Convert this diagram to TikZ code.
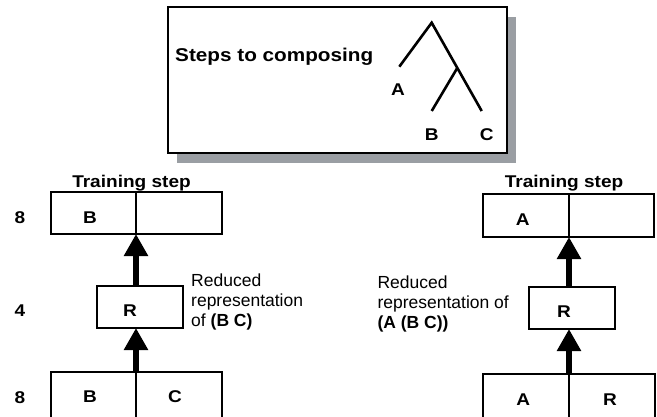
\documentclass[tikz,border=0pt]{standalone}
\usepackage{fontspec}
\setmainfont{Liberation Sans}
\usetikzlibrary{arrows.meta}
\definecolor{shadowgray}{HTML}{9A9EA3}
\newcommand{\wbold}[1]{\scalebox{1.12}[1]{\bfseries #1}}
\tikzset{
  cell/.style={draw, line width=1.2pt, inner sep=0pt, outer sep=0pt},
  lbl/.style={font=\fontsize{17}{20}\selectfont, inner sep=0pt, anchor=base},
  note/.style={font=\fontsize{17.5}{19.8}\selectfont, inner sep=0pt, anchor=base west, align=left},
  uparrow/.style={line width=6pt, -{Triangle[width=23pt,length=22pt]}},
  branch/.style={line width=2.6pt}
}
\begin{document}
\begin{tikzpicture}[x=1pt,y=-1pt]
\useasboundingbox (0,0) rectangle (657,416);
\clip (0,0) rectangle (657,416);
\fill[white] (0,0) rectangle (657,416);

% title panel
\fill[shadowgray] (177,17) rectangle (516,163);
\node[draw, fill=white, line width=1.2pt, minimum width=339pt, minimum height=146pt, inner sep=0pt] (frame) at (337.5,80) {};
\node[font=\fontsize{18.5}{21}\selectfont, inner sep=0pt, anchor=base west] (title) at (175,61) {\wbold{Steps to composing}};
\coordinate (apex) at (431.7,22.7);
\coordinate (tA) at (399.3,66.7);
\coordinate (mid) at (457,68.5);
\coordinate (tC) at (481.7,111);
\coordinate (tB) at (431.7,111);
\draw[branch] (tA) -- (apex) -- (tC);
\draw[branch] (mid) -- (tB);
\node[lbl] (lA) at (398,95) {\wbold{A}};
\node[lbl] (lB) at (431.7,140) {\wbold{B}};
\node[lbl] (lC) at (486.7,140) {\wbold{C}};

% left column
\node[lbl] (ltitle) at (131.5,187) {\wbold{Training step}};
\node[cell, minimum width=85pt, minimum height=42pt] (lt1) at (93.5,213) {};
\node[cell, minimum width=86pt, minimum height=42pt] (lt2) at (179,213) {};
\node[lbl] (ltB) at (90,223.5) {\wbold{B}};
\node[cell, minimum width=86pt, minimum height=42pt] (lr) at (140,307) {};
\node[lbl] (lrR) at (130,316.7) {\wbold{R}};
\node[cell, minimum width=85pt, minimum height=60pt] (lb1) at (93.5,402) {};
\node[cell, minimum width=86pt, minimum height=60pt] (lb2) at (179,402) {};
\node[lbl] (lbB) at (90,402.3) {\wbold{B}};
\node[lbl] (lbC) at (175,402.3) {\wbold{C}};
\node[lbl] (n8a) at (20,223) {\wbold{8}};
\node[lbl] (n4) at (20,316) {\wbold{4}};
\node[lbl] (n8b) at (20,403) {\wbold{8}};
\node[note] (lnote) at (191,326.3) {Reduced\\representation\\of \textbf{(B C)}};
\draw[uparrow] (lb1.north east) -- (lb1.north east |- lr.south);
\draw[uparrow] (lb1.north east |- lr.north) -- (lt1.south east);

% right column
\node[lbl] (rtitle) at (564,187) {\wbold{Training step}};
\node[cell, minimum width=86pt, minimum height=43pt] (rt1) at (526,215.5) {};
\node[cell, minimum width=85pt, minimum height=43pt] (rt2) at (611.5,215.5) {};
\node[lbl] (rtA) at (522.7,225.7) {\wbold{A}};
\node[cell, minimum width=86pt, minimum height=42pt] (rr) at (572,308) {};
\node[lbl] (rrR) at (564,317.7) {\wbold{R}};
\node[cell, minimum width=86pt, minimum height=60pt] (rb1) at (526,404) {};
\node[cell, minimum width=86pt, minimum height=60pt] (rb2) at (612,404) {};
\node[lbl] (rbA) at (523.3,405) {\wbold{A}};
\node[lbl] (rbR) at (610,405) {\wbold{R}};
\node[note] (rnote) at (377.3,328.3) {Reduced\\representation of\\\textbf{(A (B C))}};
\draw[uparrow] (rb1.north east) -- (rb1.north east |- rr.south);
\draw[uparrow] (rb1.north east |- rr.north) -- (rt1.south east);
\end{tikzpicture}
\end{document}
